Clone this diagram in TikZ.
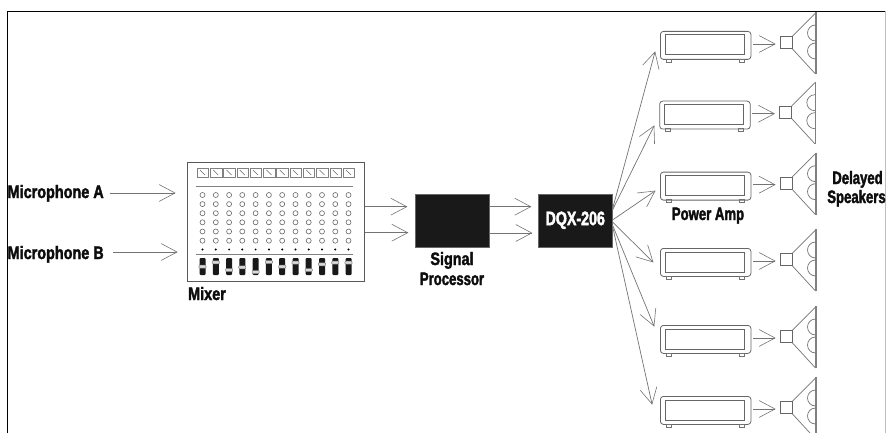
\documentclass[tikz,border=0pt]{standalone}
\usepackage{fontspec}
\usetikzlibrary{calc}
\newfontfamily\imp[FakeStretch=0.8,FakeBold=2]{Liberation Sans Bold}
\newfontfamily\impn[FakeStretch=0.73,FakeBold=2]{Liberation Sans Bold}
\tikzset{
  wire/.style={draw=black!55,line width=0.7pt},
  head/.style={draw=black!55,line width=0.6pt},
  lab/.style={font=\imp\fontsize{18}{20}\selectfont,inner sep=0pt,text=black!95},
  labn/.style={font=\impn\fontsize{18}{20}\selectfont,inner sep=0pt,text=black!95},
  blk/.style={fill=black!90,draw=black!60,line width=0.5pt,inner sep=0pt,minimum width=74pt,minimum height=53pt,anchor=north west},
  amp/.style={draw=black!60,line width=0.8pt,rounded corners=3pt,fill=white,minimum width=90.5pt,minimum height=28pt,inner sep=0pt,anchor=north west},
  ampin/.style={draw=black!60,line width=0.7pt,minimum width=79pt,minimum height=20pt,inner sep=0pt,anchor=north west},
  cone/.style={draw=black!60,line width=0.7pt,minimum width=12pt,minimum height=12pt,inner sep=0pt},
}
\newcommand{\arrowto}[2]{% tip name, from name
  \draw[wire] (#2) -- (#1);
  \draw[head] ($(#1)!18pt!-28:(#2)$) -- (#1) -- ($(#1)!18pt!28:(#2)$);
}
\newcommand{\spkr}[3]{% x of amp left, y of top, index
  \node[amp] (amp#3) at (#1,#2) {};
  \node[ampin] (inner#3) at (#1+5,#2+3.5) {};
  \draw[black!55,line width=0.6pt] (#1+6,#2+28) rectangle (#1+11,#2+31);
  \draw[black!55,line width=0.6pt] (#1+79,#2+28) rectangle (#1+84,#2+31);
  \coordinate (ampout#3) at (#1+93,#2+13);
  \coordinate (amptip#3) at (#1+115,#2+13);
  \arrowto{amptip#3}{ampout#3}
  \node[cone] (cone#3) at (#1+126,#2+11.5) {};
  \draw[black!55,line width=0.7pt] (cone#3.north east) -- (#1+155.5,#2-18) (cone#3.south east) -- (#1+155.5,#2+43);
  \draw[black!50,line width=1.5pt] (#1+156,#2-19) -- (#1+156,#2+43);
  \draw[black!55,line width=0.7pt] (#1+155.5,#2-6) arc[start angle=90,end angle=270,radius=8pt];
  \draw[black!55,line width=0.7pt] (#1+155.5,#2+12) arc[start angle=90,end angle=270,radius=8pt];
}
\begin{document}
\begin{tikzpicture}[x=1pt,y=-1pt]
\useasboundingbox (0,0) rectangle (886,433);
\draw[black,line width=0.9pt] (7.5,433) -- (7.5,11) -- (886,11);
\draw[black!25,line width=0.5pt] (885.5,11) -- (885.5,433);
% microphones
\node[lab,anchor=base west] (micA) at (7.5,198) {Microphone A};
\node[lab,anchor=base west] (micB) at (7.5,259) {Microphone B};
\coordinate (micAs) at (110,193); \coordinate (micAt) at (175,193);
\coordinate (micBs) at (113,252); \coordinate (micBt) at (177,252);
\arrowto{micAt}{micAs}
\arrowto{micBt}{micBs}
% mixer
\node[draw=black!65,line width=0.8pt,anchor=north west,minimum width=177.5pt,minimum height=119pt,inner sep=0pt] (mixer) at (186.7,162) {};
\foreach \i/\xs in {0/198,1/211.3,2/224.6,3/237.8,4/251.1,5/264.4,6/277.7,7/291,8/304.2,9/317.5,10/330.8,11/344}{
  \draw[black!50,line width=0.5pt] (\xs-1,168) rectangle ++(11.5,9);
  \draw[black!60,line width=0.5pt] (\xs+2,170) -- ++(5,5);
  \foreach \yy in {195,204.1,213.2,222.3,231.5,240.7}{
    \draw[black!60,line width=0.6pt] (\xs+4.5,\yy) circle[radius=2.5pt];
  }
  \fill[black] (\xs+4.5,249.5) circle[radius=1.1pt];
  \fill[black!90,rounded corners=1pt] (\xs+1.5,258) rectangle ++(6,17);
}
\draw[black!50,line width=0.9pt] (196,186) -- (353,186);
\draw[black!50,line width=0.9pt] (196,254) -- (353,254);
\foreach \xs/\yy in {202.5/266.7,215.8/262.3,229.1/270,242.3/267.3,255.6/272,268.9/262,282.2/266.7,295.5/262.7,308.7/270,322/264.3,335.3/262.7,348.5/262.7}{
  \draw[black!50,fill=black!15,line width=0.5pt,rounded corners=0.8pt] (\xs-3.6,\yy-1.5) rectangle (\xs+3.6,\yy+1.5);
}
\node[lab,anchor=base west] (mixlab) at (188,300) {Mixer};
% signal processor
\node[blk] (sp) at (414.7,194) {};
\node[lab,anchor=base] (splab1) at (452,265) {Signal};
\node[labn,anchor=base] (splab2) at (452,285) {Processor};
% dqx
\node[blk,text=white,font=\impn\fontsize{19.5}{20}\selectfont] (dqx) at (538,193.5) {DQX-206};
% connectors between blocks
\coordinate (m1) at (364.5,206.7); \coordinate (m2) at (364.5,232.7);
\coordinate (m1t) at (406.7,206.7); \coordinate (m2t) at (407.7,232.7);
\arrowto{m1t}{m1}
\arrowto{m2t}{m2}
\coordinate (s1) at (488.7,206.7); \coordinate (s2) at (488.7,233);
\coordinate (s1t) at (530.7,206.7); \coordinate (s2t) at (531.7,233);
\arrowto{s1t}{s1}
\arrowto{s2t}{s2}
% amps
\spkr{660}{31}{1}
\spkr{659.3}{100.7}{2}
\spkr{660}{171.7}{3}
\spkr{660}{248}{4}
\spkr{660}{325}{5}
\spkr{660}{396}{6}
\coordinate (f1) at (612.5,209); \coordinate (t1) at (655,52);
\coordinate (f2) at (612.5,210); \coordinate (t2) at (654,126);
\coordinate (f3) at (612.5,220); \coordinate (t3) at (655,191);
\coordinate (f4) at (612.5,222); \coordinate (t4) at (653,262);
\coordinate (f5) at (612.5,225); \coordinate (t5) at (654,326);
\coordinate (f6) at (612.5,226); \coordinate (t6) at (652,404);
\arrowto{t1}{f1}
\arrowto{t2}{f2}
\arrowto{t3}{f3}
\arrowto{t4}{f4}
\arrowto{t5}{f5}
\arrowto{t6}{f6}
\node[labn,anchor=base] (pa) at (708,220) {Power Amp};
\node[labn,anchor=base] (ds1) at (857.5,184) {Delayed};
\node[labn,anchor=base] (ds2) at (856.5,203) {Speakers};
\end{tikzpicture}
\end{document}
